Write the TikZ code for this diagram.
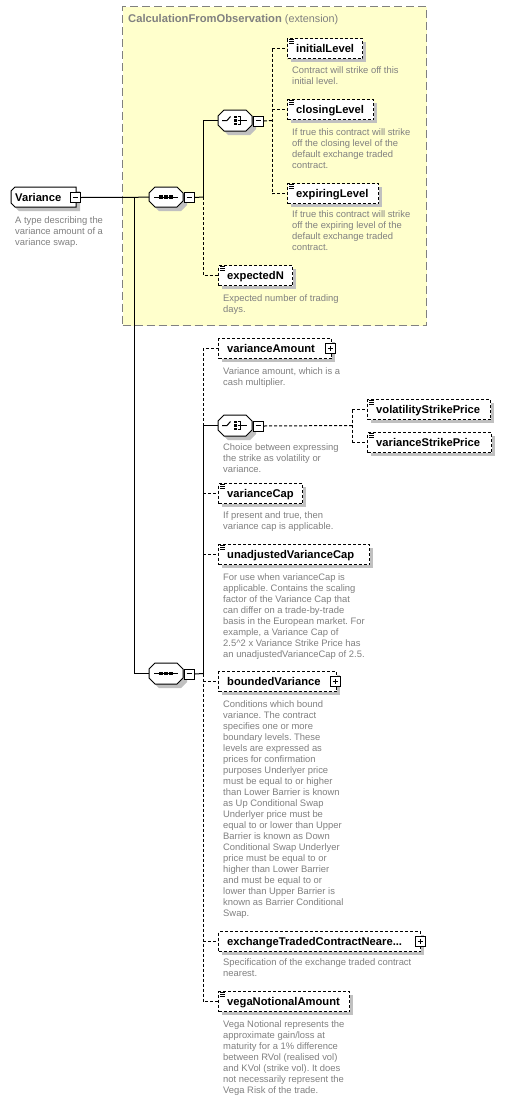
\documentclass[tikz,border=0pt]{standalone}
\usepackage{fontspec}
\setmainfont{Liberation Sans}
\frenchspacing
\definecolor{ylw}{RGB}{255,255,204}
\definecolor{ylwb}{RGB}{128,128,128}
\definecolor{shad}{RGB}{192,192,192}
\definecolor{desc}{RGB}{128,128,128}
\tikzset{
  lbl/.style={font=\fontsize{11.2}{13}\selectfont\bfseries, inner sep=0, anchor=base west},
  dsc/.style={font=\fontsize{9.4}{11}\selectfont, text=desc, inner sep=0, anchor=base west},
  optbox/.style={draw, fill=white, line width=1pt, dash pattern=on 3pt off 2pt, inner sep=0, anchor=north west},
  hitbox/.style={inner sep=0, anchor=north west},
  conn/.style={line width=1pt},
  dconn/.style={line width=1pt, dash pattern=on 3pt off 2pt},
}
% element box: name, x1, y1, x2, y2, label
\newcommand\elem[6]{%
  \fill[shad] ({#2+4},{#3+4}) rectangle ({#4+4},{#5+4});
  \node[optbox, minimum width={(#4-#2)*1pt}, minimum height={(#5-#3)*1pt}] (#1) at (#2,#3) {};
  \node[lbl] (#1-t) at ({#2+9},{(#3+#5)/2+4}) {#6};
}
% simple-type icon at top-left of a box
\newcommand\simpleicon[2]{%
  \fill[white] ({#1+1},{#2+0.5}) rectangle ({#1+8},{#2+6});
  \draw[line width=0.8pt] ({#1+2},{#2+1}) -- ++(5,0) ({#1+2},{#2+3}) -- ++(5,0) ({#1+2},{#2+5}) -- ++(5,0);
}
% plus/minus box: name, x, y, plus(1)/minus(0)
\newcommand\pmbox[4]{%
  \node[draw, fill=white, line width=1pt, inner sep=0, minimum width=10pt, minimum height=10pt, anchor=north west] (#1) at (#2,#3) {};
  \draw[line width=1pt] ({#2+10.5},{#3+1}) -- ({#2+10.5},{#3+10.5}) -- ({#2+1},{#3+10.5});
  \draw[line width=1pt] ({#2+2.5},{#3+5}) -- ({#2+7.5},{#3+5});
  \ifnum#4=1 \draw[line width=1pt] ({#2+5},{#3+2.5}) -- ({#2+5},{#3+7.5});\fi
}
% octagon compositor: name, x1, y1, x2, y2
\newcommand\octa[5]{%
  \fill[shad, shift={(4,4)}] ({#2+6},#3) -- ({#4-6},#3) -- (#4,{#3+6}) -- (#4,{#5-6}) -- ({#4-6},#5) -- ({#2+6},#5) -- (#2,{#5-6}) -- (#2,{#3+6}) -- cycle;
  \draw[line width=1pt, fill=white] ({#2+6},#3) -- ({#4-6},#3) -- (#4,{#3+6}) -- (#4,{#5-6}) -- ({#4-6},#5) -- ({#2+6},#5) -- (#2,{#5-6}) -- (#2,{#3+6}) -- cycle;
  \node[hitbox, minimum width={(#4-#2)*1pt}, minimum height={(#5-#3)*1pt}] (#1) at (#2,#3) {};
}
% sequence icon centred at (cx,cy)
\newcommand\seqicon[2]{%
  \draw[line width=1pt] ({#1-12},#2) -- ({#1+12},#2);
  \foreach \dx in {-5,0,5} {\fill ({#1+\dx-1.75},{#2-1.75}) rectangle ++(3.5,3.5);}
}
% choice icon centred at (cx,cy)
\newcommand\choiceicon[2]{%
  \draw[line width=1pt] ({#1-13},#2) -- ({#1-8},#2) -- ({#1-4.5},{#2-4});
  \foreach \dy in {-3.6,0,3.6} {\fill ({#1-0.75},{#2+\dy-1.3}) rectangle ++(2.6,2.6);}
  \draw[line width=1pt] ({#1+2.5},{#2-4}) -- ({#1+5.5},{#2-4}) -- ({#1+5.5},{#2+4}) -- ({#1+2.5},{#2+4});
  \draw[line width=1pt] ({#1+2.5},#2) -- ({#1+12},#2);
}
% description lines: name, x, first baseline, {lines}
\newcommand\descr[4]{%
  \foreach \dline [count=\i] in {#4} {\node[dsc] (#1-d\i) at ({#2},{#3+(\i-1)*11}) {\dline};}
}
\begin{document}
\begin{tikzpicture}[x=1pt,y=-1pt]
\useasboundingbox (0,0) rectangle (519,1100);
\fill[white] (0,0) rectangle (519,1100);

% extension area
\node[hitbox, draw=ylwb, fill=ylw, line width=1pt, dash pattern=on 8pt off 4pt, minimum width=304pt, minimum height=319pt] (ext) at (122,6) {};
\node[anchor=base west, inner sep=0, text=desc, font=\fontsize{10.8}{13}\selectfont] (extTitle) at (128,22) {{\fontsize{11.2}{13}\selectfont\bfseries CalculationFromObservation} (extension)};

% root element
\fill[shad, shift={(4,4)}] (15,187) -- (76,187) -- (76,207) -- (15,207) -- (11,203) -- (11,191) -- cycle;
\draw[line width=1pt, fill=white] (15,187) -- (76,187) -- (76,207) -- (15,207) -- (11,203) -- (11,191) -- cycle;
\node[hitbox, minimum width=65pt, minimum height=20pt] (Variance) at (11,187) {};
\node[lbl] (Variance-t) at (15,201) {Variance};
\pmbox{Variance-m}{70}{192}{0}
\descr{Variance}{15}{223.5}{{A type describing the},{variance amount of a},{variance swap.}}

% first sequence
\octa{seqA}{149}{187}{183}{207}
\seqicon{166}{197}
\pmbox{seqA-m}{184}{192}{0}

% first choice
\octa{choiceA}{218}{110}{252}{131}
\choiceicon{235}{120.5}
\pmbox{choiceA-m}{253}{115.5}{0}

\elem{initialLevel}{287}{38}{362}{58}{initialLevel}
\simpleicon{287}{38}
\descr{initialLevel}{292}{73.5}{{Contract will strike off this},{initial level.}}

\elem{closingLevel}{287}{99}{373}{119}{closingLevel}
\simpleicon{287}{99}
\descr{closingLevel}{292}{135.5}{{If true this contract will strike},{off the closing level of the},{default exchange traded},{contract.}}

\elem{expiringLevel}{287}{183}{378}{203}{expiringLevel}
\simpleicon{287}{183}
\descr{expiringLevel}{292}{217.5}{{If true this contract will strike},{off the expiring level of the},{default exchange traded},{contract.}}

\elem{expectedN}{218}{265}{292}{285}{expectedN}
\simpleicon{218}{265}
\descr{expectedN}{223}{301.5}{{Expected number of trading},{days.}}

% second sequence
\octa{seqB}{149}{663}{183}{684}
\seqicon{166}{673.5}
\pmbox{seqB-m}{184}{668.5}{0}

\elem{varianceAmount}{218}{338}{331}{358}{varianceAmount}
\pmbox{varianceAmount-p}{325}{343}{1}
\descr{varianceAmount}{223}{374.5}{{Variance amount, which is a},{cash multiplier.}}

\octa{choiceB}{218}{415}{252}{436}
\choiceicon{235}{425.5}
\pmbox{choiceB-m}{253}{420.5}{0}
\descr{choiceB}{223}{450.5}{{Choice between expressing},{the strike as volatility or},{variance.}}

\elem{volatilityStrikePrice}{367}{399}{490}{419}{volatilityStrikePrice}
\simpleicon{367}{399}
\elem{varianceStrikePrice}{367}{432}{491}{452}{varianceStrikePrice}
\simpleicon{367}{432}

\elem{varianceCap}{218}{483}{302}{503}{varianceCap}
\simpleicon{218}{483}
\descr{varianceCap}{223}{518}{{If present and true, then},{variance cap is applicable.}}

\elem{unadjustedVarianceCap}{218}{544}{369}{564}{unadjustedVarianceCap}
\simpleicon{218}{544}
\descr{unadjustedVarianceCap}{223}{580.5}{{For use when varianceCap is},{applicable. Contains the scaling},{factor of the Variance Cap that},{can differ on a trade-by-trade},{basis in the European market. For},{example, a Variance Cap of},{2.5\textasciicircum 2 x Variance Strike Price has},{an unadjustedVarianceCap of 2.5.}}

\elem{boundedVariance}{218}{671}{336}{691}{boundedVariance}
\pmbox{boundedVariance-p}{330}{676}{1}
\descr{boundedVariance}{223}{707.5}{{Conditions which bound},{variance. The contract},{specifies one or more},{boundary levels. These},{levels are expressed as},{prices for confirmation},{purposes Underlyer price},{must be equal to or higher},{than Lower Barrier is known},{as Up Conditional Swap},{Underlyer price must be},{equal to or lower than Upper},{Barrier is known as Down},{Conditional Swap Underlyer},{price must be equal to or},{higher than Lower Barrier},{and must be equal to or},{lower than Upper Barrier is},{known as Barrier Conditional},{Swap.}}

\elem{exchangeTraded}{218}{931}{420}{951}{exchangeTradedContractNeare...}
\pmbox{exchangeTraded-p}{415}{936}{1}
\descr{exchangeTraded}{223}{965.5}{{Specification of the exchange traded contract},{nearest.}}

\elem{vegaNotionalAmount}{218}{991}{349}{1011}{vegaNotionalAmount}
\simpleicon{218}{991}
\descr{vegaNotionalAmount}{223}{1027.5}{{Vega Notional represents the},{approximate gain/loss at},{maturity for a 1\% difference},{between RVol (realised vol)},{and KVol (strike vol). It does},{not necessarily represent the},{Vega Risk of the trade.}}

% ---------- connectors ----------
\coordinate (spine) at (134.5,197);
\draw[conn] (Variance-m.east) -- (seqA.west);
\draw[conn] (spine) |- (seqB.west);

\coordinate (jA) at (203,197);
\draw[conn] (seqA-m.east) -- (jA);
\draw[conn] (jA) |- (choiceA.west);
\draw[dconn] (jA) |- (expectedN.west);

\coordinate (jC) at (272,120.5);
\draw[dconn] (choiceA-m.east) -- (jC);
\draw[dconn] (jC |- initialLevel.west) -- (jC |- expiringLevel.west);
\draw[dconn] (jC |- initialLevel.west) -- (initialLevel.west);
\draw[dconn] (jC |- closingLevel.west) -- (closingLevel.west);
\draw[dconn] (jC |- expiringLevel.west) -- (expiringLevel.west);

\coordinate (jB) at (203,673.5);
\draw[conn] (seqB-m.east) -- (jB);
\draw[conn] (jB) |- (choiceB.west);
\draw[dconn] (jB |- choiceB.west) |- (varianceAmount.west);
\draw[dconn] (jB |- varianceCap.west) -- (varianceCap.west);
\draw[dconn] (jB |- unadjustedVarianceCap.west) -- (unadjustedVarianceCap.west);
\draw[dconn] (jB) |- (vegaNotionalAmount.west);
\draw[dconn] (jB |- boundedVariance.west) -- (boundedVariance.west);
\draw[dconn] (jB |- exchangeTraded.west) -- (exchangeTraded.west);

\coordinate (jD) at (352,425.5);
\draw[dconn] (choiceB-m.east) -- (jD);
\draw[dconn] (jD |- volatilityStrikePrice.west) -- (jD |- varianceStrikePrice.west);
\draw[dconn] (jD |- volatilityStrikePrice.west) -- (volatilityStrikePrice.west);
\draw[dconn] (jD |- varianceStrikePrice.west) -- (varianceStrikePrice.west);
\end{tikzpicture}
\end{document}
